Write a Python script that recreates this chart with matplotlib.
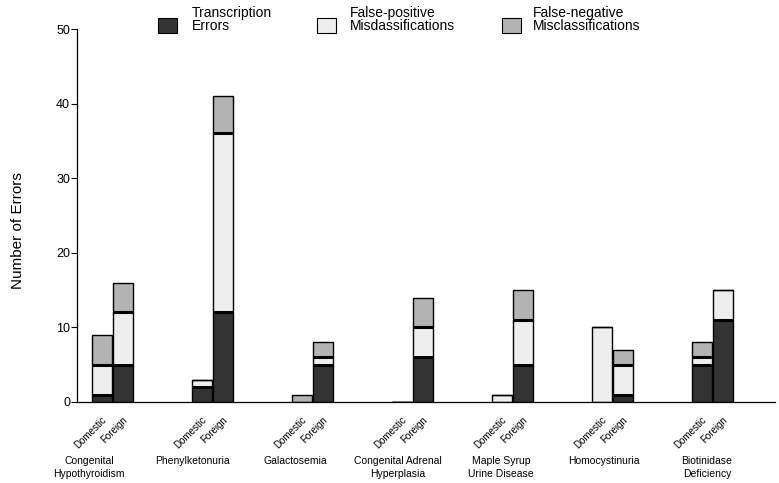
import numpy as np
import matplotlib.pyplot as plt
from matplotlib.patches import Rectangle

plt.rcParams['font.family'] = ['Liberation Sans Narrow', 'Liberation Sans', 'DejaVu Sans']

# --- data ---
diseases = ["Congenital\nHypothyroidism", "Phenylketonuria", "Galactosemia",
            "Congenital Adrenal\nHyperplasia", "Maple Syrup\nUrine Disease",
            "Homocystinuria", "Biotinidase\nDeficiency"]
origins = ["Domestic", "Foreign"]

# rows = disease, columns = domestic / foreign
transcription = [[1, 5], [2, 12], [0, 5], [0, 6], [0, 5], [0, 1], [5, 11]]
false_pos = [[4, 7], [1, 24], [0, 1], [0, 4], [1, 6], [10, 4], [1, 4]]
false_neg = [[4, 4], [0, 5], [1, 2], [0, 4], [0, 4], [0, 2], [2, 0]]

series_names = ["Transcription\nErrors", "False-positive\nMisdassifications",
                "False-negative\nMisclassifications"]
colors = ["#333333", "#eeeeee", "#b3b3b3"]

# --- layout ---
fig = plt.figure(figsize=(7.79, 4.83), dpi=100)
ax = fig.add_axes([77 / 779, 81 / 483, (775 - 77) / 779, (402 - 29) / 483])

width = 0.2
centers = np.arange(len(diseases))
stacks = [np.array(transcription), np.array(false_pos), np.array(false_neg)]

for j in range(2):
    xs = centers + (j - 0.5) * 0.21
    bottom = np.zeros(len(diseases))
    for k, s in enumerate(stacks):
        vals = s[:, j]
        ax.bar(xs, vals, width, bottom=bottom, color=colors[k],
               edgecolor="black", linewidth=1.0, zorder=2)
        # thicker separator between two filled segments
        if k > 0:
            for x, b, v, prev in zip(xs, bottom, vals, stacks[k - 1][:, j]):
                if v > 0 and prev > 0:
                    ax.hlines(b, x - width / 2, x + width / 2, color="black",
                              linewidth=2.2, zorder=3)
        bottom = bottom + vals

ax.set_xlim(-0.35, 6.63)
ax.set_ylim(0, 50)
ax.set_yticks(range(0, 51, 10))
ax.tick_params(axis="y", length=4, width=0.8, labelsize=9, pad=1)
ax.spines["top"].set_visible(False)
ax.spines["right"].set_visible(False)
ax.spines["left"].set_linewidth(0.9)
ax.spines["bottom"].set_linewidth(0.9)

# rotated Domestic / Foreign tick labels
tick_x = np.concatenate([centers - 0.105, centers + 0.105])
tick_lab = [origins[0]] * len(diseases) + [origins[1]] * len(diseases)
order = np.argsort(tick_x)
ax.set_xticks(tick_x[order])
ax.set_xticklabels([tick_lab[i] for i in order], rotation=45, ha="right",
                   rotation_mode="anchor", fontsize=7)
ax.tick_params(axis="x", length=0, pad=9)

# disease names under the groups
label_x = centers * 1.03 - 0.23
for x, name in zip(label_x, diseases):
    ax.text(x, -7.3, name, ha="center", va="top", fontsize=7.5,
            linespacing=1.3, transform=ax.transData, clip_on=False)

ax.set_ylabel("Number of Errors", fontsize=11)
ax.yaxis.set_label_coords(-0.075, 0.46)

# legend drawn by hand across the top
leg_sq = [158, 317, 502]
leg_tx = [192, 350, 533]
for sx, tx, name, c in zip(leg_sq, leg_tx, series_names, colors):
    fig.patches.append(Rectangle((sx / 779, 1 - 33 / 483), 19 / 779, 15 / 483,
                                 transform=fig.transFigure, facecolor=c,
                                 edgecolor="black", linewidth=0.8))
    fig.text(tx / 779, 1 - 33 / 483, name, ha="left", va="bottom",
             fontsize=10, linespacing=0.9)

fig.savefig("out.png", dpi=100)
